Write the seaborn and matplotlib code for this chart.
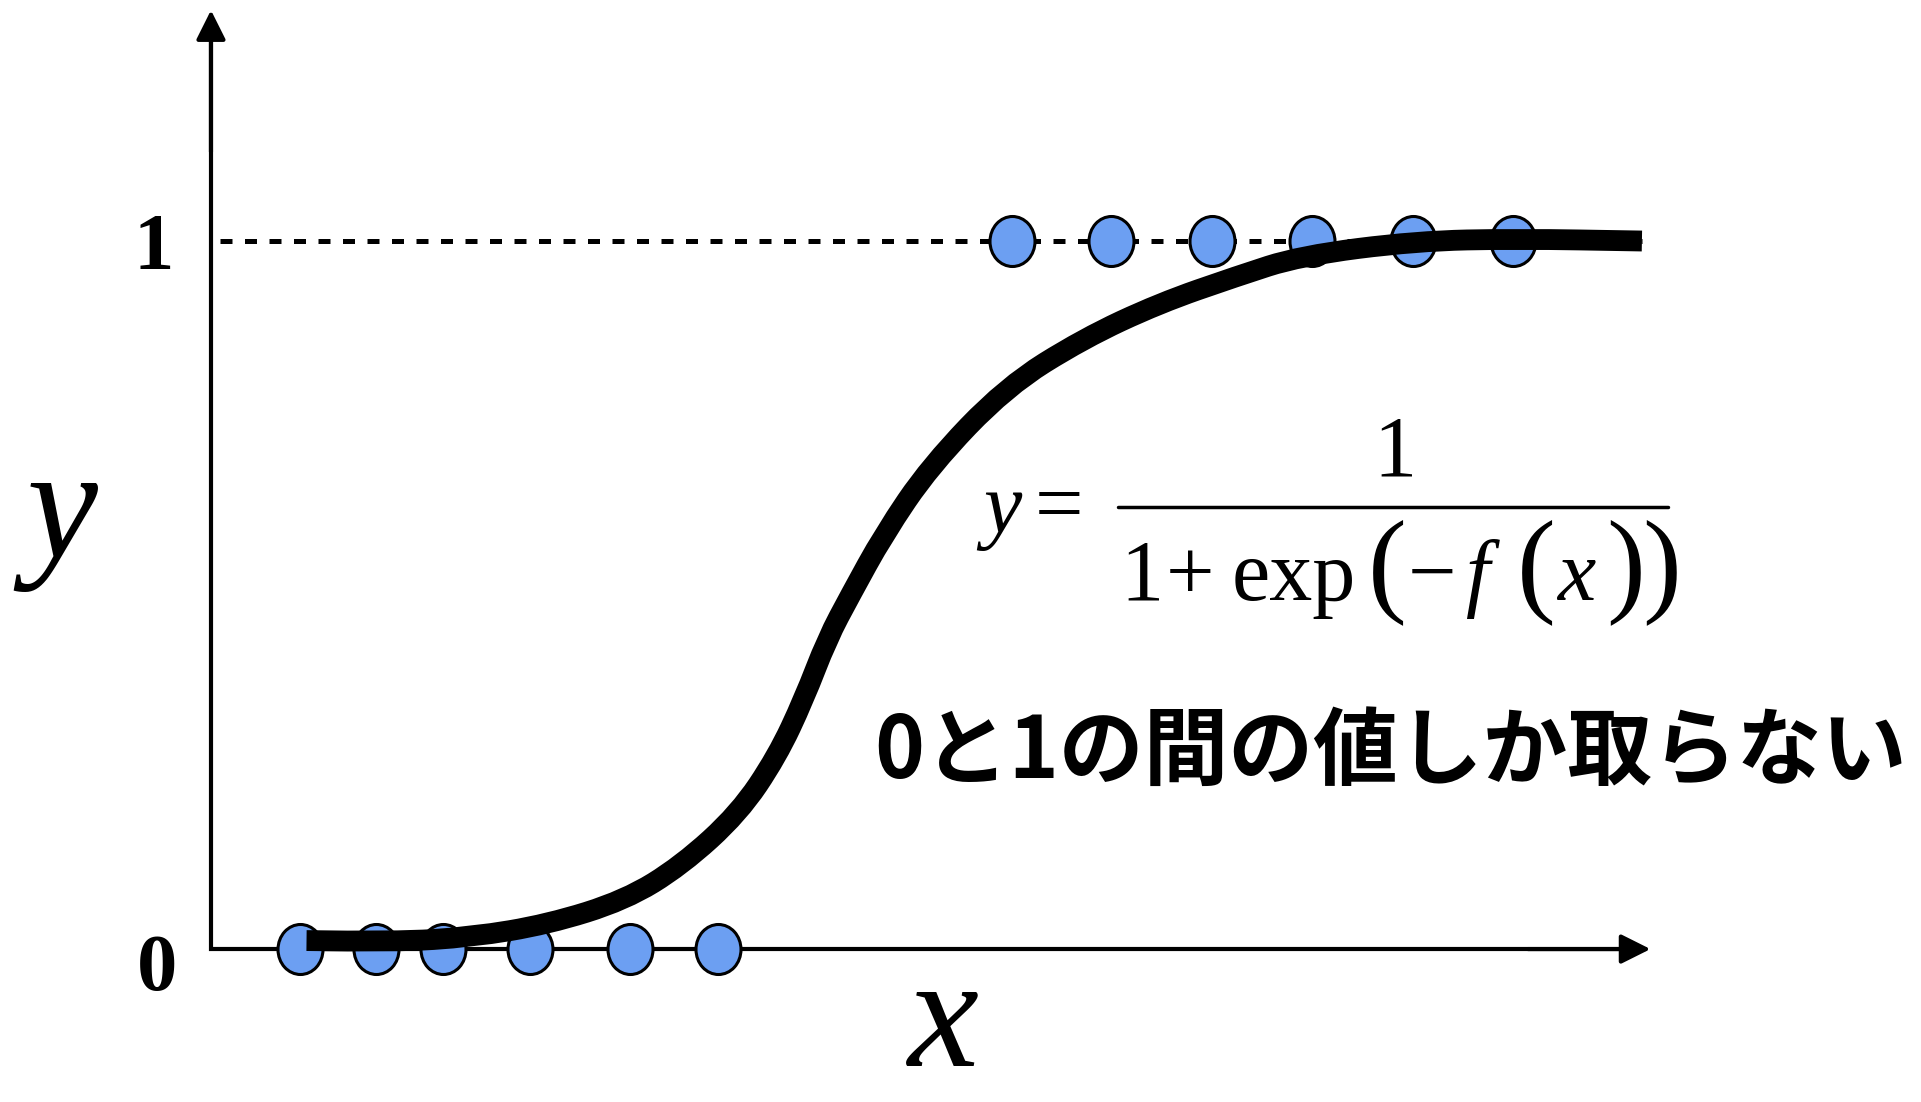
import numpy as np
import pandas as pd
import matplotlib
matplotlib.use("Agg")
import matplotlib.pyplot as plt
from matplotlib.path import Path
from matplotlib.patches import PathPatch
from matplotlib.transforms import Affine2D
import seaborn as sns

# Observed samples: class 0 along the bottom, class 1 along the top
x_class0 = [0.73, 1.35, 1.89, 2.60, 3.42, 4.14]
y_class0 = [0, 0, 0, 0, 0, 0]
x_class1 = [6.54, 7.35, 8.17, 8.99, 9.81, 10.63]
y_class1 = [1, 1, 1, 1, 1, 1]

# Fitted sigmoid curve (control points of a smooth path)
curve_x = [0.78, 1.50, 2.13, 2.75, 3.38, 3.84, 4.31, 4.62, 4.84, 5.03, 5.22,
           5.49, 5.87, 6.49, 7.12, 7.74, 8.37, 8.89, 9.84, 10.66, 11.68]
curve_y = [0.012, 0.010, 0.017, 0.035, 0.069, 0.118, 0.192, 0.272, 0.353, 0.438, 0.500,
           0.585, 0.682, 0.794, 0.862, 0.912, 0.950, 0.979, 1.000, 1.003, 1.000]

y_ticks = [0, 1]
y_tick_labels = ["0", "1"]

sns.set_style("white")
plt.rcParams["font.family"] = ["Noto Sans CJK JP", "DejaVu Sans"]
plt.rcParams["text.color"] = "black"

fig = plt.figure(figsize=(19.21, 11.02), dpi=100)
ax = fig.add_axes([0, 0, 1, 1])
ax.set_xlim(-1.722, 13.958)
ax.set_ylim(-0.216, 1.3404)
ax.axis("off")

# Axes drawn as arrows
x_end, y_end = 11.75, 1.326
ax.plot([x_end - 0.1, 0, 0], [0, 0, y_end - 0.02], color="black", lw=3,
        solid_joinstyle="miter", zorder=1)
arrow_kw = dict(arrowstyle="-|>", color="black", lw=3, mutation_scale=45,
                shrinkA=0, shrinkB=0)
ax.annotate("", xy=(x_end, 0), xytext=(x_end - 1.0, 0), arrowprops=arrow_kw)
ax.annotate("", xy=(0, y_end), xytext=(0, y_end - 0.2), arrowprops=arrow_kw)

# Upper bound y = 1
ax.plot([0.07, 11.68], [1, 1], color="black", lw=3.6, dashes=(2.4, 2.5), zorder=1)

# Slightly tall elliptical markers
ellipse = Path.unit_circle().transformed(Affine2D().scale(0.9, 1.0))
points = pd.DataFrame({
    "x": x_class0 + x_class1,
    "y": y_class0 + y_class1,
})
sns.scatterplot(data=points, x="x", y="y", marker=ellipse, s=1296,
                color="#6C9FF2", edgecolor="black", linewidth=2.2,
                legend=False, zorder=3, ax=ax)

# Smooth curve: quadratic segments through the midpoints of the control points
pts = np.column_stack([curve_x, curve_y])
verts = [pts[0]]
codes = [Path.MOVETO]
for i in range(1, len(pts) - 1):
    mid = (pts[i] + pts[i + 1]) / 2
    verts += [pts[i], mid]
    codes += [Path.CURVE3, Path.CURVE3]
verts.append(pts[-1])
codes.append(Path.LINETO)
ax.add_patch(PathPatch(Path(verts, codes), fill=False, edgecolor="black", lw=15,
                       capstyle="butt", joinstyle="round", zorder=4))

serif = "Liberation Serif"

# Tick labels
tick_pos = [(-0.44, -0.03), (-0.47, 0.988)]
for lab, (xp, yp) in zip(y_tick_labels, tick_pos):
    ax.text(xp, yp, lab, family=serif, weight="bold", color="black",
            fontsize=58, ha="center", va="center")

# Axis names
ax.text(-1.22, 0.553, "y", family=serif, style="italic", color="black",
        fontsize=115, ha="center", va="baseline")
ax.text(5.98, -0.213, "x", family=serif, style="italic", color="black",
        fontsize=115, ha="center", va="bottom")

# Formula  y = 1 / (1 + exp(-f(x)))
fs = 62
fs_paren = 84
ax.text(6.30, 0.589, "y", family=serif, style="italic", fontsize=fs,
        color="black", ha="left", va="baseline")
ax.text(6.72, 0.589, "=", family=serif, fontsize=fs, color="black",
        ha="left", va="baseline")
ax.plot([7.40, 11.89], [0.624, 0.624], color="black", lw=2.5)
ax.text(9.66, 0.669, "1", family=serif, fontsize=fs, color="black",
        ha="center", va="baseline")
den_base = 0.493
denominator = [
    (7.42, "1", "normal", fs),
    (7.79, "+", "normal", fs),
    (8.33, "exp", "normal", fs),
    (9.44, "(", "normal", fs_paren),
    (9.77, "\u2212", "normal", fs),
    (10.24, "f", "italic", fs),
    (10.66, "(", "normal", fs_paren),
    (10.99, "x", "italic", fs),
    (11.39, ")", "normal", fs_paren),
    (11.68, ")", "normal", fs_paren),
]
for xp, s, st, size in denominator:
    ax.text(xp, den_base, s, family=serif, style=st, fontsize=size,
            color="black", ha="left", va="baseline")

ax.text(9.63, 0.278, "0と1の間の値しか取らない", fontsize=61, weight="bold",
        color="black", family=["Noto Sans CJK JP"], ha="center", va="center")

fig.savefig("out.png", dpi=100)
